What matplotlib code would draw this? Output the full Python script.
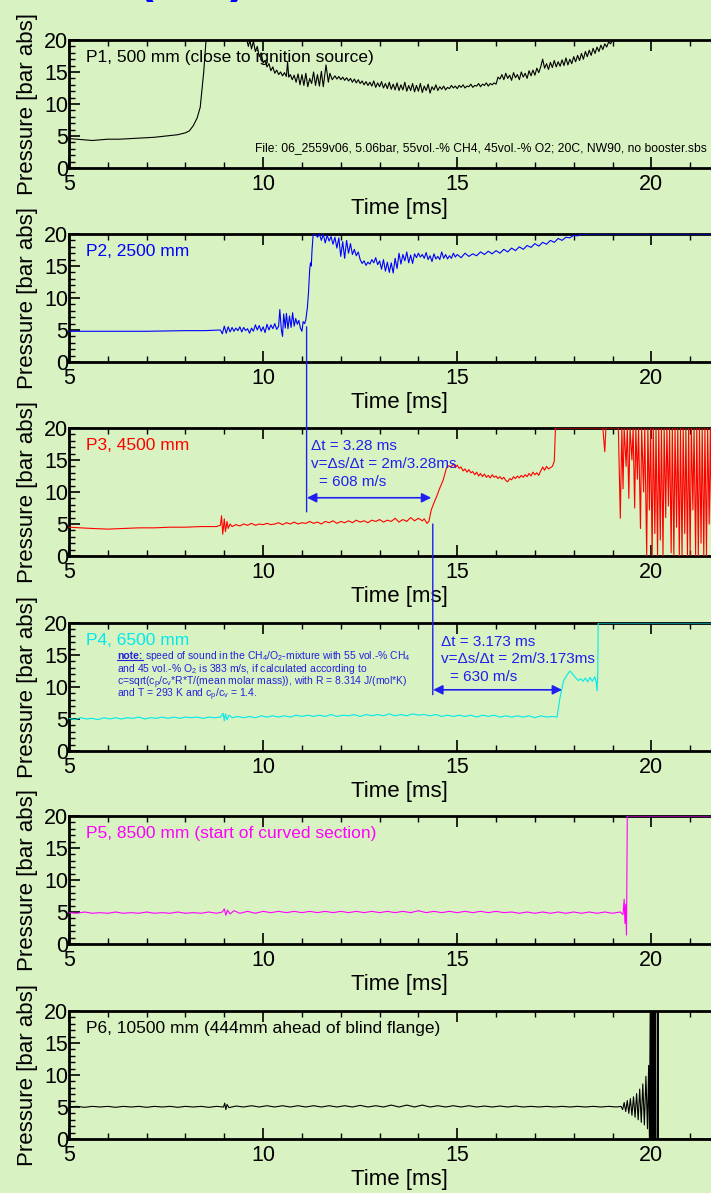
import numpy as np
import matplotlib.pyplot as plt
from matplotlib.patches import ConnectionPatch
from matplotlib.lines import Line2D

plt.rcParams['font.family'] = ['Liberation Sans', 'DejaVu Sans']
plt.rcParams['mathtext.fontset'] = 'custom'
plt.rcParams['mathtext.rm'] = 'Liberation Sans'
plt.rcParams['mathtext.default'] = 'regular'

BG = '#d9f2c2'
ANNO = '#1f1ff0'
NOTE = '#2222dd'

# pressure traces: (time [ms], pressure [bar abs])
p1 = [(5.0, 4.6), (5.2, 4.5), (5.4, 4.4), (5.6, 4.3), (5.8, 4.4), (6.0, 4.5), (6.3, 4.5), (6.6, 4.6),
      (6.9, 4.7), (7.2, 4.8), (7.5, 5.0), (7.8, 5.2), (8.0, 5.5), (8.1, 5.8), (8.2, 6.6), (8.3, 7.8),
      (8.38, 9.5), (8.43, 12.5), (8.47, 15.0), (8.5, 17.5), (8.53, 20.0), (9.55, 20.0),
      (9.58, 20.0), (9.62, 19.0), (9.66, 20.0), (9.7, 18.6), (9.75, 19.8), (9.8, 18.2), (9.85, 19.0),
      (9.9, 17.4), (9.95, 18.0), (10.0, 16.4), (10.05, 16.8), (10.1, 15.8), (10.15, 16.3), (10.2, 15.2),
      (10.25, 15.8), (10.3, 14.8), (10.35, 15.3), (10.4, 14.6), (10.45, 15.0), (10.5, 14.4), (10.55, 14.9),
      (10.6, 14.3), (10.63, 16.6), (10.66, 14.2), (10.7, 14.6), (10.75, 13.8), (10.8, 14.5), (10.85, 13.4),
      (10.9, 14.7), (10.95, 13.0), (11.0, 14.6), (11.05, 12.9), (11.1, 14.8), (11.15, 12.7), (11.2, 14.0),
      (11.25, 13.2), (11.3, 15.0), (11.35, 12.9), (11.4, 14.6), (11.45, 12.8), (11.5, 15.1), (11.55, 12.7),
      (11.62, 16.1), (11.68, 13.4), (11.72, 14.8), (11.78, 13.8), (11.85, 14.4), (11.9, 13.9), (11.95, 14.3),
      (12.0, 13.8), (12.05, 14.2), (12.1, 13.7), (12.15, 14.1), (12.2, 13.6), (12.25, 14.0), (12.3, 13.4),
      (12.35, 13.9), (12.4, 13.3), (12.45, 13.8), (12.5, 13.2), (12.55, 13.6), (12.6, 13.0), (12.65, 13.5),
      (12.7, 12.9), (12.75, 13.4), (12.8, 12.8), (12.85, 13.6), (12.9, 12.6), (12.95, 13.3), (13.0, 12.7),
      (13.05, 13.5), (13.1, 12.5), (13.15, 13.2), (13.2, 12.4), (13.25, 13.4), (13.3, 12.3), (13.35, 13.1),
      (13.4, 12.2), (13.45, 13.3), (13.5, 12.1), (13.55, 13.0), (13.6, 12.2), (13.65, 13.4), (13.7, 12.0),
      (13.75, 12.9), (13.8, 12.1), (13.85, 13.2), (13.9, 11.9), (13.95, 12.9), (14.0, 12.0), (14.05, 13.2),
      (14.1, 11.8), (14.15, 12.8), (14.2, 12.1), (14.25, 13.1), (14.3, 11.7), (14.35, 12.7), (14.4, 12.2),
      (14.45, 13.0), (14.5, 12.1), (14.55, 12.7), (14.6, 12.3), (14.65, 12.8), (14.7, 12.2), (14.75, 12.6),
      (14.8, 12.4), (14.85, 12.9), (14.9, 12.5), (14.95, 12.8), (15.0, 12.4), (15.05, 12.9), (15.1, 12.6),
      (15.15, 13.0), (15.2, 12.5), (15.25, 12.8), (15.3, 12.7), (15.35, 13.1), (15.4, 12.6), (15.45, 12.9),
      (15.5, 12.8), (15.55, 13.2), (15.6, 12.7), (15.65, 13.1), (15.7, 12.9), (15.75, 13.3), (15.8, 12.8),
      (15.85, 13.2), (15.9, 13.0), (15.95, 13.3), (16.0, 13.1), (16.05, 14.2), (16.1, 13.9), (16.15, 14.6),
      (16.2, 13.8), (16.25, 14.8), (16.3, 14.0), (16.35, 14.5), (16.4, 13.7), (16.45, 14.9), (16.5, 14.1),
      (16.55, 14.6), (16.6, 13.8), (16.65, 15.0), (16.7, 14.2), (16.75, 14.8), (16.8, 14.0), (16.85, 15.2),
      (16.9, 14.4), (16.95, 15.3), (17.0, 14.5), (17.05, 15.6), (17.1, 14.9), (17.15, 15.8), (17.2, 17.0),
      (17.25, 15.6), (17.3, 16.3), (17.35, 15.4), (17.4, 16.5), (17.45, 15.7), (17.5, 16.8), (17.55, 15.8),
      (17.6, 16.6), (17.65, 15.9), (17.7, 16.9), (17.75, 16.0), (17.8, 17.2), (17.85, 16.1), (17.9, 17.0),
      (17.95, 16.3), (18.0, 17.4), (18.05, 16.6), (18.1, 17.6), (18.15, 16.8), (18.2, 17.9), (18.25, 17.0),
      (18.3, 18.2), (18.35, 17.4), (18.4, 18.4), (18.45, 17.6), (18.5, 18.7), (18.55, 17.9), (18.6, 18.9),
      (18.65, 18.2), (18.7, 19.2), (18.75, 18.5), (18.8, 19.4), (18.85, 18.9), (18.9, 19.7), (18.95, 19.4),
      (19.0, 20.0), (22.0, 20.0)]

p2 = [(5.0, 4.8), (6.0, 4.8), (7.0, 4.8), (8.0, 4.9), (8.5, 4.9), (8.9, 5.0), (8.95, 4.4), (9.0, 5.6),
      (9.05, 4.5), (9.1, 5.5), (9.15, 4.7), (9.2, 5.4), (9.25, 4.8), (9.3, 5.3), (9.35, 4.9), (9.4, 5.5),
      (9.45, 4.7), (9.5, 5.4), (9.55, 4.9), (9.6, 5.2), (9.65, 4.5), (9.7, 5.3), (9.75, 4.8), (9.8, 5.8),
      (9.85, 5.0), (9.9, 5.7), (9.95, 4.8), (10.0, 5.5), (10.05, 4.6), (10.1, 5.9), (10.15, 5.0), (10.2, 5.8),
      (10.25, 5.2), (10.3, 6.0), (10.35, 5.1), (10.4, 5.6), (10.43, 8.2), (10.47, 5.0), (10.5, 4.0),
      (10.53, 7.5), (10.57, 5.3), (10.6, 7.6), (10.64, 5.2), (10.68, 7.2), (10.72, 5.4), (10.76, 7.7),
      (10.8, 5.6), (10.84, 6.8), (10.88, 5.9), (10.92, 6.5), (10.96, 5.3), (11.0, 4.8), (11.03, 6.3),
      (11.07, 6.0), (11.1, 6.6), (11.14, 8.5), (11.17, 11.0), (11.2, 14.5), (11.22, 15.5), (11.24, 15.0),
      (11.26, 17.5), (11.29, 20.0), (11.35, 20.0), (11.4, 19.5), (11.45, 20.0), (11.5, 19.0), (11.55, 20.0),
      (11.6, 18.6), (11.65, 19.8), (11.7, 18.9), (11.75, 19.6), (11.8, 18.4), (11.85, 19.5), (11.9, 17.8),
      (11.95, 19.4), (12.0, 16.5), (12.05, 18.8), (12.1, 16.2), (12.15, 19.0), (12.2, 17.0), (12.25, 18.5),
      (12.3, 16.8), (12.35, 17.6), (12.4, 16.6), (12.45, 17.2), (12.5, 16.0), (12.55, 15.4), (12.6, 15.8),
      (12.65, 15.1), (12.7, 15.6), (12.75, 15.3), (12.8, 16.0), (12.85, 15.5), (12.9, 16.3), (12.95, 15.2),
      (13.0, 15.8), (13.05, 14.5), (13.1, 16.0), (13.15, 14.2), (13.2, 15.6), (13.25, 14.0), (13.3, 15.5),
      (13.35, 13.9), (13.4, 16.2), (13.45, 14.6), (13.5, 17.0), (13.55, 15.3), (13.6, 16.8), (13.65, 15.8),
      (13.7, 17.2), (13.75, 15.5), (13.8, 16.7), (13.85, 15.4), (13.9, 16.9), (13.95, 16.3), (14.0, 17.0),
      (14.05, 16.4), (14.1, 16.8), (14.15, 16.2), (14.2, 17.1), (14.25, 16.0), (14.3, 16.6), (14.35, 15.7),
      (14.4, 16.9), (14.45, 16.1), (14.5, 16.5), (14.55, 16.0), (14.6, 17.2), (14.65, 16.2), (14.7, 16.8),
      (14.75, 16.1), (14.8, 16.6), (14.85, 16.2), (14.9, 17.0), (14.95, 16.4), (15.0, 16.8), (15.1, 16.3),
      (15.2, 17.0), (15.3, 16.5), (15.4, 16.9), (15.5, 16.6), (15.6, 17.2), (15.7, 16.8), (15.8, 17.3),
      (15.9, 16.9), (16.0, 17.4), (16.1, 17.0), (16.2, 17.6), (16.3, 17.2), (16.4, 17.8), (16.5, 17.4),
      (16.6, 18.0), (16.7, 17.6), (16.8, 18.2), (16.9, 17.9), (17.0, 18.5), (17.1, 18.1), (17.2, 18.7),
      (17.3, 18.4), (17.4, 19.0), (17.5, 18.7), (17.6, 19.3), (17.7, 19.0), (17.8, 19.5), (17.9, 19.4),
      (18.0, 19.8), (18.1, 19.7), (18.2, 20.0), (22.0, 20.0)]

p3 = [(5.0, 4.5), (5.3, 4.4), (5.6, 4.3), (6.0, 4.2), (6.4, 4.3), (6.8, 4.4), (7.2, 4.4), (7.6, 4.5),
      (8.0, 4.5), (8.4, 4.6), (8.8, 4.6), (8.9, 4.8), (8.93, 6.3), (8.96, 3.4), (9.0, 5.8), (9.03, 3.8),
      (9.07, 5.4), (9.1, 4.3), (9.15, 5.0), (9.2, 4.6), (9.3, 4.9), (9.4, 4.7), (9.5, 5.0), (9.6, 4.8),
      (9.7, 5.1), (9.8, 4.8), (9.9, 5.0), (10.0, 4.9), (10.1, 5.1), (10.2, 4.9), (10.3, 5.0), (10.4, 5.2),
      (10.5, 4.9), (10.6, 5.2), (10.7, 5.0), (10.8, 5.3), (10.9, 5.0), (11.0, 5.2), (11.1, 5.1), (11.2, 5.4),
      (11.3, 5.1), (11.4, 5.3), (11.5, 5.0), (11.6, 5.4), (11.7, 5.2), (11.8, 5.5), (11.9, 5.1), (12.0, 5.4),
      (12.1, 5.2), (12.2, 5.5), (12.3, 5.2), (12.4, 5.6), (12.5, 5.3), (12.6, 5.5), (12.7, 5.2), (12.8, 5.6),
      (12.9, 5.4), (13.0, 5.7), (13.1, 5.3), (13.2, 5.6), (13.3, 5.4), (13.4, 5.9), (13.5, 5.3), (13.6, 5.7),
      (13.7, 5.4), (13.8, 6.0), (13.9, 5.5), (14.0, 5.9), (14.1, 5.5), (14.15, 5.8), (14.22, 5.1),
      (14.27, 5.4), (14.33, 7.2), (14.4, 8.3), (14.47, 9.3), (14.55, 10.6), (14.64, 11.9), (14.72, 13.7),
      (14.78, 14.1), (14.84, 13.9), (14.9, 14.4), (14.95, 13.8), (15.0, 14.2), (15.05, 13.7), (15.1, 13.9),
      (15.15, 13.3), (15.2, 13.6), (15.25, 13.1), (15.3, 13.5), (15.35, 13.0), (15.4, 13.2), (15.45, 12.7),
      (15.5, 13.1), (15.55, 12.5), (15.6, 12.9), (15.65, 12.4), (15.7, 12.8), (15.75, 12.3), (15.8, 12.6),
      (15.85, 12.2), (15.9, 12.7), (15.95, 12.3), (16.0, 12.5), (16.05, 12.1), (16.1, 12.4), (16.15, 12.0),
      (16.2, 12.3), (16.25, 11.8), (16.3, 11.6), (16.35, 12.1), (16.4, 11.9), (16.45, 12.4), (16.5, 12.1),
      (16.55, 12.5), (16.6, 12.2), (16.65, 12.6), (16.7, 12.3), (16.75, 12.7), (16.8, 12.4), (16.85, 12.9),
      (16.9, 12.5), (16.95, 13.1), (17.0, 12.7), (17.05, 13.0), (17.1, 12.6), (17.15, 13.3), (17.2, 13.9),
      (17.25, 13.4), (17.3, 14.0), (17.35, 13.6), (17.4, 13.8), (17.45, 14.0), (17.5, 14.8), (17.53, 20.0),
      (18.75, 20.0), (18.8, 16.3), (18.83, 20.0), (19.15, 20.0), (19.2, 5.9), (19.24, 20.0), (19.27, 10.5),
      (19.3, 20.0), (19.35, 14.0), (19.38, 20.0), (19.42, 9.0), (19.45, 20.0), (19.5, 15.0), (19.53, 20.0),
      (19.57, 7.5), (19.6, 20.0), (19.64, 12.0), (19.67, 20.0), (19.72, 4.3), (19.75, 20.0), (19.8, 10.0),
      (19.83, 20.0), (19.88, 0.0), (19.91, 20.0), (19.95, 7.2), (19.98, 20.0), (20.02, 0.0), (20.05, 20.0),
      (20.09, 3.5), (20.12, 20.0), (20.16, 0.0), (20.19, 20.0), (20.23, 2.5), (20.26, 20.0), (20.3, 0.0),
      (20.33, 20.0), (20.37, 6.0), (20.4, 20.0), (20.44, 7.8), (20.47, 20.0), (20.51, 0.5), (20.54, 20.0),
      (20.58, 0.0), (20.61, 20.0), (20.65, 4.5), (20.68, 20.0), (20.72, 0.0), (20.75, 20.0), (20.79, 0.0),
      (20.82, 20.0), (20.86, 3.5), (20.89, 20.0), (20.93, 0.0), (20.96, 20.0), (21.0, 0.0), (21.03, 20.0),
      (21.07, 7.2), (21.1, 20.0), (21.14, 0.0), (21.17, 20.0), (21.21, 0.0), (21.24, 20.0), (21.28, 2.0),
      (21.31, 20.0), (21.35, 0.0), (21.38, 20.0), (21.42, 0.0), (21.45, 20.0), (21.49, 5.0), (21.52, 20.0),
      (21.56, 0.0), (21.6, 20.0), (21.65, 0.0), (21.7, 20.0), (22.0, 20.0)]

p4 = [(5.0, 5.1), (5.15, 4.9), (5.3, 5.2), (5.45, 5.0), (5.6, 5.1), (5.75, 4.9), (5.9, 5.2), (6.05, 5.0),
      (6.2, 5.2), (6.35, 5.0), (6.5, 5.2), (6.65, 5.1), (6.8, 5.3), (6.95, 5.0), (7.1, 5.2), (7.25, 5.1),
      (7.4, 5.3), (7.55, 5.1), (7.7, 5.3), (7.85, 5.1), (8.0, 5.3), (8.15, 5.2), (8.3, 5.3), (8.45, 5.1),
      (8.6, 5.3), (8.75, 5.2), (8.9, 5.3), (8.97, 5.9), (9.0, 4.7), (9.03, 5.8), (9.07, 4.9), (9.12, 5.6),
      (9.2, 5.2), (9.35, 5.4), (9.5, 5.2), (9.65, 5.4), (9.8, 5.2), (9.95, 5.5), (10.1, 5.3), (10.25, 5.5),
      (10.4, 5.3), (10.55, 5.5), (10.7, 5.3), (10.85, 5.6), (11.0, 5.4), (11.15, 5.6), (11.3, 5.4),
      (11.45, 5.6), (11.6, 5.4), (11.75, 5.7), (11.9, 5.4), (12.05, 5.6), (12.2, 5.5), (12.35, 5.7),
      (12.5, 5.4), (12.65, 5.7), (12.8, 5.5), (12.95, 5.7), (13.1, 5.5), (13.25, 5.8), (13.4, 5.5),
      (13.55, 5.7), (13.7, 5.5), (13.85, 5.8), (14.0, 5.6), (14.15, 5.7), (14.3, 5.5), (14.45, 5.7),
      (14.6, 5.4), (14.75, 5.6), (14.9, 5.4), (15.05, 5.6), (15.2, 5.4), (15.35, 5.6), (15.5, 5.3),
      (15.65, 5.6), (15.8, 5.4), (15.95, 5.6), (16.1, 5.3), (16.25, 5.5), (16.4, 5.3), (16.55, 5.5),
      (16.7, 5.3), (16.85, 5.5), (17.0, 5.2), (17.15, 5.5), (17.3, 5.3), (17.45, 5.4), (17.57, 5.3),
      (17.65, 8.4), (17.74, 11.0), (17.82, 11.8), (17.9, 12.5), (17.95, 12.2), (18.0, 11.8), (18.06, 11.4),
      (18.12, 11.0), (18.18, 11.3), (18.24, 10.9), (18.3, 11.4), (18.36, 10.8), (18.42, 11.5), (18.48, 10.9),
      (18.54, 11.6), (18.58, 10.8), (18.6, 9.4), (18.62, 12.0), (18.63, 20.0), (22.0, 20.0)]

p5 = [(5.0, 4.9), (5.2, 4.8), (5.4, 5.0), (5.6, 4.8), (5.8, 4.9), (6.0, 4.8), (6.2, 5.0), (6.4, 4.8),
      (6.6, 4.9), (6.8, 4.8), (7.0, 5.0), (7.2, 4.8), (7.4, 4.9), (7.6, 4.8), (7.8, 5.0), (8.0, 4.8),
      (8.2, 4.9), (8.4, 4.8), (8.6, 5.0), (8.8, 4.8), (8.95, 5.0), (9.0, 5.5), (9.04, 4.5), (9.08, 5.3),
      (9.15, 4.7), (9.25, 5.2), (9.4, 4.8), (9.6, 5.1), (9.8, 4.8), (10.0, 5.1), (10.2, 4.9), (10.4, 5.1),
      (10.6, 4.9), (10.8, 5.1), (11.0, 4.9), (11.2, 5.1), (11.4, 4.9), (11.6, 5.1), (11.8, 4.9), (12.0, 5.1),
      (12.2, 4.9), (12.4, 5.1), (12.6, 4.9), (12.8, 5.1), (13.0, 4.9), (13.2, 5.1), (13.4, 4.9), (13.6, 5.1),
      (13.8, 4.9), (14.0, 5.2), (14.2, 4.9), (14.4, 5.1), (14.6, 4.9), (14.8, 5.1), (15.0, 4.9), (15.2, 5.1),
      (15.4, 4.9), (15.6, 5.1), (15.8, 4.9), (16.0, 5.1), (16.2, 4.9), (16.4, 5.0), (16.6, 4.8), (16.8, 5.0),
      (17.0, 4.8), (17.2, 5.0), (17.4, 4.8), (17.6, 5.0), (17.8, 4.8), (18.0, 5.0), (18.2, 4.8), (18.4, 5.0),
      (18.6, 4.8), (18.8, 5.0), (19.0, 4.8), (19.2, 5.0), (19.27, 4.6), (19.3, 7.0), (19.32, 3.2),
      (19.34, 6.2), (19.36, 1.4), (19.38, 20.0), (22.0, 20.0)]

p6 = [(5.0, 5.0), (5.2, 5.1), (5.4, 4.95), (5.6, 5.1), (5.8, 5.0), (6.0, 5.1), (6.2, 4.95), (6.4, 5.1),
      (6.6, 5.0), (6.8, 5.1), (7.0, 4.95), (7.2, 5.1), (7.4, 5.0), (7.6, 5.1), (7.8, 4.95), (8.0, 5.1),
      (8.2, 5.0), (8.4, 5.1), (8.6, 4.95), (8.8, 5.1), (8.98, 5.0), (9.01, 5.6), (9.04, 4.6), (9.07, 5.4),
      (9.12, 4.9), (9.3, 5.15), (9.5, 5.0), (9.7, 5.2), (9.9, 5.0), (10.1, 5.2), (10.3, 5.0), (10.5, 5.2),
      (10.7, 5.0), (10.9, 5.2), (11.1, 5.0), (11.3, 5.2), (11.5, 5.0), (11.7, 5.2), (11.9, 5.0), (12.1, 5.2),
      (12.3, 5.0), (12.5, 5.25), (12.7, 5.0), (12.9, 5.2), (13.1, 5.0), (13.3, 5.3), (13.5, 5.0), (13.7, 5.3),
      (13.9, 5.0), (14.1, 5.3), (14.3, 5.0), (14.5, 5.2), (14.7, 5.0), (14.9, 5.2), (15.1, 5.0), (15.3, 5.2),
      (15.5, 5.0), (15.7, 5.15), (15.9, 5.0), (16.1, 5.15), (16.3, 5.0), (16.5, 5.15), (16.7, 5.0),
      (16.9, 5.1), (17.1, 5.0), (17.3, 5.1), (17.5, 5.0), (17.7, 5.1), (17.9, 5.0), (18.1, 5.1), (18.3, 5.0),
      (18.5, 5.1), (18.7, 5.0), (18.9, 5.1), (19.1, 5.0), (19.22, 5.1), (19.26, 4.6), (19.3, 5.7),
      (19.34, 4.3), (19.38, 6.0), (19.42, 4.0), (19.46, 6.3), (19.5, 3.7), (19.54, 6.6), (19.58, 3.4),
      (19.62, 7.1), (19.66, 3.0), (19.7, 7.8), (19.74, 2.6), (19.78, 8.6), (19.82, 2.2), (19.86, 9.8),
      (19.9, 1.6), (19.93, 11.5), (19.95, 0.0), (19.97, 20.0), (19.98, 0.0), (19.99, 20.0), (20.0, 0.0),
      (20.01, 20.0), (20.02, 0.0), (20.03, 20.0), (20.04, 0.0), (20.05, 20.0), (20.06, 0.0), (20.07, 20.0),
      (20.08, 0.0), (20.09, 20.0), (20.1, 0.0), (20.11, 20.0), (20.12, 0.0), (20.17, 0.0), (20.172, 20.0),
      (20.175, 0.0), (22.0, 0.0)]

labels = ['P1, 500 mm (close to ignition source)', 'P2, 2500 mm', 'P3, 4500 mm',
          'P4, 6500 mm', 'P5, 8500 mm (start of curved section)',
          'P6, 10500 mm (444mm ahead of blind flange)']
colors = ['black', '#0000ff', '#ff0000', '#00eaea', '#ff00ff', 'black']
traces = [p1, p2, p3, p4, p5, p6]

file_note = 'File: 06_2559v06, 5.06bar, 55vol.-% CH4, 45vol.-% O2; 20C, NW90, no booster.sbs'
note_head = 'note:'
note_lines = [r'speed of sound in the CH$_4$/O$_2$-mixture with 55 vol.-% CH$_4$',
              r'and 45 vol.-% O$_2$ is 383 m/s, if calculated according to',
              r'c=sqrt(c$_p$/c$_v$*R*T/(mean molar mass)), with R = 8.314 J/(mol*K)',
              r'and T = 293 K and c$_p$/c$_v$ = 1.4.']

W, H = 711, 1193
fig = plt.figure(figsize=(W / 100, H / 100), dpi=100, facecolor=BG)

tops = [40, 234, 428, 623, 816, 1011]
axes = []
for i in range(6):
    ax = fig.add_axes([69 / W, 1 - (tops[i] + 128) / H, 660 / W, 128 / H], facecolor=BG)
    t, p = zip(*traces[i])
    ax.plot(t, p, color=colors[i], lw=0.8, zorder=3)
    ax.set_xlim(5, 22)
    ax.set_ylim(0, 20)
    ax.set_xticks([5, 10, 15, 20])
    ax.set_xticks(np.arange(5, 23, 1), minor=True)
    ax.set_yticks([0, 5, 10, 15, 20])
    ax.set_yticks(np.arange(0, 21, 1), minor=True)
    ax.tick_params(which='both', direction='in', top=True, right=True, labelsize=15.5)
    ax.tick_params(which='major', length=8, width=1.2)
    ax.tick_params(which='minor', length=4.5, width=1.0)
    ax.tick_params(axis='x', pad=4)
    ax.tick_params(axis='y', pad=0.5)
    for s in ax.spines.values():
        s.set_linewidth(2)
    ax.set_xlabel('Time [ms]', fontsize=16)
    ax.set_ylabel('Pressure [bar abs]', fontsize=16)
    ax.xaxis.set_label_coords(0.5, -0.235)
    ax.yaxis.set_label_coords(-0.047, 0.5)
    ax.text(0.026, 0.867, labels[i], transform=ax.transAxes, color=colors[i],
            fontsize=12.5, va='center', ha='left')
    axes.append(ax)

ax1, ax2, ax3, ax4, ax5, ax6 = axes
ax1.text(0.967, 0.156, file_note, transform=ax1.transAxes, fontsize=8.7, ha='right', va='center')

# propagation time annotations
ax3.annotate('', xy=(14.33, 9.1), xytext=(11.13, 9.1),
             arrowprops=dict(arrowstyle='<|-|>', color=ANNO, lw=1.2, mutation_scale=14,
                             shrinkA=0, shrinkB=0))
ax3.text(11.24, 17.2, '\u0394t = 3.28 ms', color=ANNO, fontsize=11, va='center')
ax3.text(11.24, 14.4, 'v=\u0394s/\u0394t = 2m/3.28ms', color=ANNO, fontsize=11, va='center')
ax3.text(11.45, 11.6, '= 608 m/s', color=ANNO, fontsize=11, va='center')

ax4.annotate('', xy=(17.7, 9.56), xytext=(14.38, 9.56),
             arrowprops=dict(arrowstyle='<|-|>', color=ANNO, lw=1.2, mutation_scale=14,
                             shrinkA=0, shrinkB=0))
ax4.text(14.58, 17.05, '\u0394t = 3.173 ms', color=ANNO, fontsize=11, va='center')
ax4.text(14.58, 14.3, 'v=\u0394s/\u0394t = 2m/3.173ms', color=ANNO, fontsize=11, va='center')
ax4.text(14.82, 11.5, '= 630 m/s', color=ANNO, fontsize=11, va='center')

for (xa, ya, axa), (xb, yb, axb) in [((11.12, 5.5, ax2), (11.12, 6.9, ax3)),
                                     ((14.37, 5.0, ax3), (14.37, 8.8, ax4))]:
    con = ConnectionPatch(xyA=(xa, ya), coordsA=axa.transData, xyB=(xb, yb), coordsB=axb.transData,
                          color=ANNO, lw=1.0, zorder=5)
    fig.add_artist(con)

# note about speed of sound
note_y = [14.4, 12.4, 10.3, 8.4]
head = ax4.text(6.24, note_y[0], note_head, color=NOTE, fontsize=7.5, fontweight='bold',
                va='baseline', ha='left')
fig.canvas.draw()
bb = head.get_window_extent(fig.canvas.get_renderer())
inv = fig.transFigure.inverted()
(fx0, fy0), (fx1, _) = inv.transform([(bb.x0, bb.y0 + 1.2), (bb.x1, bb.y0)])
fig.add_artist(Line2D([fx0, fx1], [fy0, fy0], transform=fig.transFigure, color=NOTE, lw=0.8))
x_after = ax4.transData.inverted().transform((bb.x1 + 2.5, 0))[0]
ax4.text(x_after, note_y[0], note_lines[0], color=NOTE, fontsize=7.5, va='baseline', ha='left')
for line, y in zip(note_lines[1:], note_y[1:]):
    ax4.text(6.24, y, line, color=NOTE, fontsize=7.5, va='baseline', ha='left')

# cut-off heading at the very top
fig.text(138 / W, 1 + 8 / H, '(', color='#0000ff', fontsize=34, fontweight='bold', va='baseline')
fig.text(230 / W, 1 + 8 / H, ')', color='#0000ff', fontsize=34, fontweight='bold', va='baseline')

fig.savefig('out.png', dpi=100, facecolor=BG)
